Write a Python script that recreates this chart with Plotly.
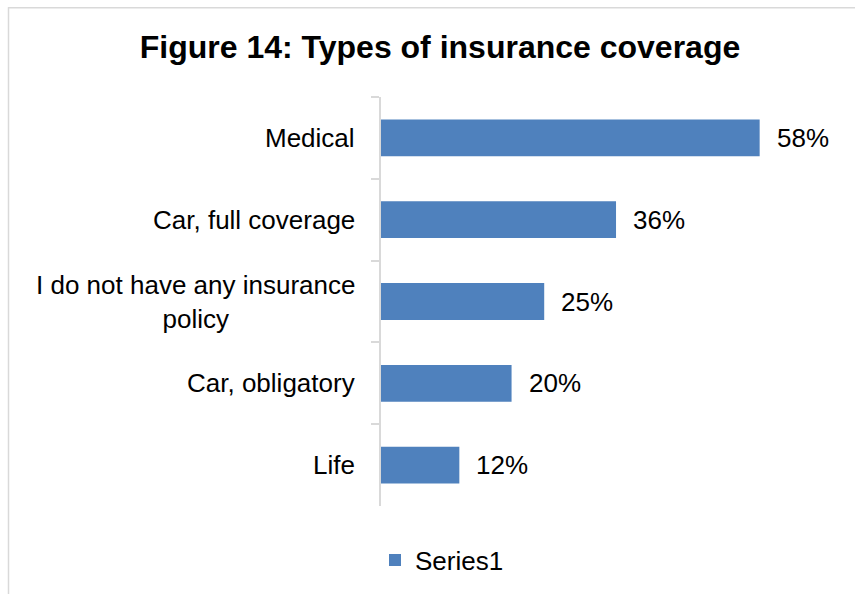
import plotly.graph_objects as go

# Survey results: share of respondents holding each type of insurance
categories = ["Medical", "Car, full coverage", "I do not have any insurance<br>policy",
              "Car, obligatory", "Life"]
values = [58, 36, 25, 20, 12]
value_labels = ["58%", "36%", "25%", "20%", "12%"]
series_name = "Series1"

BAR_COLOR = "#4f81bd"
GRID_GRAY = "#d9d9d9"
FONT = "Liberation Sans, Arial, sans-serif"
LABEL_SIZE = 26
TITLE_SIZE = 32

W, H = 855, 594
L, R, T, B = 381, 17, 97, 87
plot_w = W - L - R
plot_h = H - T - B


def px_x(px):
    return (px - L) / plot_w


def px_y(py):
    return (H - B - py) / plot_h


fig = go.Figure()
fig.add_trace(go.Bar(
    x=values,
    y=categories,
    orientation="h",
    marker=dict(color=BAR_COLOR, line=dict(width=0)),
    name=series_name,
    showlegend=True,
))

# category labels, centered line-wise and right-aligned to the axis
for cat in categories:
    fig.add_annotation(
        x=px_x(357), xref="paper", y=cat, yref="y",
        text=cat, showarrow=False, xanchor="right", yanchor="middle",
        align="center", font=dict(family=FONT, size=LABEL_SIZE, color="#000000"),
    )

# value labels beside each bar
for cat, v, lab in zip(categories, values, value_labels):
    fig.add_annotation(
        x=v, xref="x", y=cat, yref="y", text=lab, showarrow=False,
        xanchor="left", yanchor="middle", xshift=15,
        font=dict(family=FONT, size=LABEL_SIZE, color="#000000"),
    )

# chart frame (top and left edges)
fig.add_shape(type="line", xref="paper", yref="paper",
              x0=px_x(8), x1=px_x(W + 5), y0=px_y(7.5), y1=px_y(7.5),
              line=dict(color=GRID_GRAY, width=1.5))
fig.add_shape(type="line", xref="paper", yref="paper",
              x0=px_x(8.5), x1=px_x(8.5), y0=px_y(7), y1=px_y(H + 5),
              line=dict(color=GRID_GRAY, width=1.5))

fig.update_layout(
    width=W, height=H,
    margin=dict(l=L, r=R, t=T, b=B),
    paper_bgcolor="white", plot_bgcolor="white",
    font=dict(family=FONT, size=LABEL_SIZE, color="#000000"),
    title=dict(text="<b>Figure 14: Types of insurance coverage</b>",
               x=440 / W, xanchor="center", xref="container",
               y=1 - 47 / H, yanchor="middle", yref="container",
               font=dict(family=FONT, size=TITLE_SIZE, color="#000000")),
    bargap=0.55,
    xaxis=dict(range=[0, 70], visible=False, fixedrange=True),
    yaxis=dict(autorange="reversed", showticklabels=False, showline=True,
               linecolor=GRID_GRAY, linewidth=2, ticks="outside",
               tickson="boundaries", ticklen=8, tickcolor=GRID_GRAY,
               tickwidth=2, showgrid=False, zeroline=False),
    legend=dict(orientation="h", x=px_x(375), xanchor="left",
                y=px_y(560), yanchor="middle",
                font=dict(family=FONT, size=LABEL_SIZE, color="#000000"),
                itemwidth=30),
    showlegend=True,
)

fig.write_html("out.html")
